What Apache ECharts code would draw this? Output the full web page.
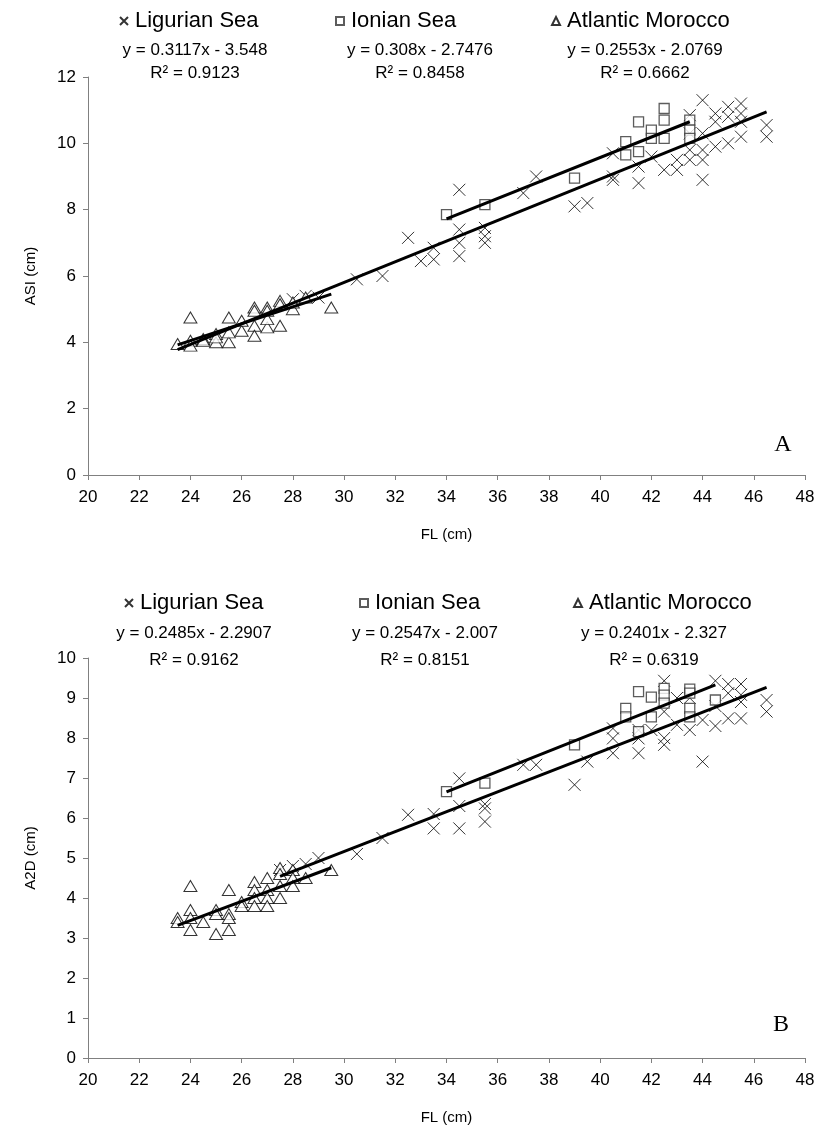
<!DOCTYPE html>
<html>
<head>
<meta charset="utf-8">
<script src="https://cdn.jsdelivr.net/npm/echarts@6/dist/echarts.min.js"></script>
<style>
html,body{margin:0;padding:0;background:#fff;}
#chart{width:818px;height:1129px;}
</style>
</head>
<body>
<div id="chart"></div>
<script>
// ---------------- DATA ----------------
const seriesNames = ['Ligurian Sea', 'Ionian Sea', 'Atlantic Morocco'];
const xTicks = [20, 22, 24, 26, 28, 30, 32, 34, 36, 38, 40, 42, 44, 46, 48];

// Panel A : ASI (cm) vs FL (cm)
const ligurianA = [
  [28.0,5.3],[28.5,5.4],[29.0,5.35],[30.5,5.9],[31.5,6.0],[32.5,7.15],[33.0,6.45],[33.5,6.85],[33.5,6.5],
  [34.5,8.6],[34.5,7.4],[34.5,7.0],[34.5,6.6],[35.5,7.45],[35.5,7.2],[35.5,7.0],[37.0,8.5],[37.5,9.0],
  [39.0,8.1],[39.5,8.2],[40.5,9.7],[40.5,9.0],[40.5,8.9],[41.5,9.3],[41.5,8.8],[42.0,9.6],[42.5,9.2],
  [43.0,9.2],[43.0,9.5],[43.5,9.5],[43.5,9.8],[43.5,10.85],[43.5,10.3],[44.0,11.3],[44.0,10.3],[44.0,9.8],
  [44.0,9.5],[44.0,8.9],[44.5,10.9],[44.5,10.65],[44.5,9.9],[45.0,11.1],[45.0,10.8],[45.0,10.0],
  [45.5,11.2],[45.5,10.9],[45.5,10.65],[45.5,10.2],[46.5,10.55],[46.5,10.2]
];
const ionianA = [
  [34.0,7.85],[35.5,8.15],[39.0,8.95],[41.0,10.05],[41.0,9.65],[41.5,9.75],[41.5,10.65],[42.0,10.4],
  [42.0,10.15],[42.5,11.05],[42.5,10.7],[42.5,10.15],[43.5,10.7],[43.5,10.4],[43.5,10.15]
];
const atlanticA = [
  [23.5,3.95],[24.0,4.75],[24.0,4.05],[24.0,3.9],[24.5,4.1],[24.5,4.05],[25.0,4.25],[25.0,4.0],[25.0,4.15],
  [25.5,4.75],[25.5,4.0],[25.5,4.3],[26.0,4.35],[26.0,4.65],[26.5,5.05],[26.5,4.95],[26.5,4.5],[26.5,4.2],
  [27.0,5.05],[27.0,4.95],[27.0,4.45],[27.0,4.7],[27.5,5.25],[27.5,5.15],[27.5,4.5],[28.0,5.0],[28.0,5.2],
  [28.5,5.35],[29.5,5.05]
];
const slopeA = [0.3117, 0.308, 0.2553];
const interceptA = [-3.548, -2.7476, -2.0769];
const r2A = ['0.9123', '0.8458', '0.6662'];
const rangeA = [[23.5, 46.5], [34.0, 43.5], [23.5, 29.5]];
const yTicksA = [0, 2, 4, 6, 8, 10, 12];

// Panel B : A2D (cm) vs FL (cm)
const ligurianB = [
  [27.5,4.7],[28.0,4.8],[28.5,4.85],[29.0,5.0],[30.5,5.1],[31.5,5.5],[32.5,6.08],[33.5,6.1],[33.5,5.74],
  [34.5,6.99],[34.5,6.3],[34.5,5.74],[35.5,6.35],[35.5,6.24],[35.5,5.91],[37.0,7.33],[37.5,7.33],
  [39.0,6.83],[39.5,7.41],[40.5,8.24],[40.5,7.99],[40.5,7.62],[41.5,8.2],[41.5,7.99],[41.5,7.62],
  [42.0,8.2],[42.5,9.43],[42.5,8.66],[42.5,8.0],[42.5,7.83],[43.0,9.0],[43.0,8.33],[43.5,9.0],[43.5,8.2],
  [44.0,8.45],[44.0,7.41],[44.5,9.43],[44.5,8.8],[44.5,8.3],[45.0,9.35],[45.0,9.12],[45.0,8.49],
  [45.5,9.35],[45.5,9.08],[45.5,8.9],[45.5,8.49],[46.5,8.95],[46.5,8.66]
];
const ionianB = [
  [34.0,6.66],[35.5,6.87],[39.0,7.83],[41.0,8.74],[41.0,8.53],[41.5,9.16],[41.5,8.16],[42.0,9.02],
  [42.0,8.53],[42.5,9.24],[42.5,9.07],[42.5,8.87],[43.5,9.22],[43.5,9.12],[43.5,8.74],[43.5,8.53],[44.5,8.95]
];
const atlanticB = [
  [23.5,3.5],[23.5,3.4],[24.0,4.3],[24.0,3.7],[24.0,3.5],[24.0,3.2],[24.5,3.4],[25.0,3.7],[25.0,3.6],
  [25.0,3.1],[25.5,4.2],[25.5,3.6],[25.5,3.5],[25.5,3.2],[26.0,3.9],[26.0,3.8],[26.5,4.4],[26.5,4.2],
  [26.5,4.0],[26.5,3.8],[27.0,4.5],[27.0,4.2],[27.0,4.0],[27.0,3.8],[27.5,4.75],[27.5,4.6],[27.5,4.3],
  [27.5,4.0],[28.0,4.7],[28.0,4.5],[28.0,4.3],[28.5,4.5],[29.5,4.7]
];
const slopeB = [0.2485, 0.2547, 0.2401];
const interceptB = [-2.2907, -2.007, -2.327];
const r2B = ['0.9162', '0.8151', '0.6319'];
const rangeB = [[27.5, 46.5], [34.0, 44.5], [23.5, 29.5]];
const yTicksB = [0, 1, 2, 3, 4, 5, 6, 7, 8, 9, 10];

// ---------------- STYLE / BUILD ----------------
const FONT = 'Liberation Sans, Arial, sans-serif';
const xPath = 'path://M0,0L10,10M10,0L0,10';
const markerStyles = [
  {symbol: xPath, symbolSize: 12, itemStyle: {color: 'rgba(0,0,0,0)', borderColor: '#000', borderWidth: 1}},
  {symbol: 'rect', symbolSize: 10, itemStyle: {color: '#fff', borderColor: '#333', borderWidth: 1.3}},
  {symbol: 'triangle', symbolSize: [13, 11], itemStyle: {color: '#fff', borderColor: '#000', borderWidth: 1}}
];

function fmtEq(s, b) {
  return 'y = ' + s + 'x - ' + Math.abs(b);
}

function trendLine(s, b, r) {
  return [[r[0], s * r[0] + b], [r[1], s * r[1] + b]];
}

const grids = [
  {left: 88, width: 717, top: 77, height: 398},
  {left: 88, width: 717, top: 658, height: 400}
];

function xAxisFor(gi) {
  return {
    gridIndex: gi, type: 'value', min: xTicks[0], max: xTicks[xTicks.length - 1], interval: 2,
    name: 'FL (cm)', nameLocation: 'middle', nameGap: 52,
    nameTextStyle: {fontFamily: FONT, fontSize: 15, color: '#000'},
    axisLine: {onZero: false, lineStyle: {color: '#808080', width: 1}},
    axisTick: {inside: false, length: 5, lineStyle: {color: '#808080'}},
    axisLabel: {fontFamily: FONT, fontSize: 17, color: '#000', margin: 14},
    splitLine: {show: false}
  };
}
function yAxisFor(gi, ticks, name) {
  return {
    gridIndex: gi, type: 'value', min: ticks[0], max: ticks[ticks.length - 1], interval: ticks[1] - ticks[0],
    name: name, nameLocation: 'middle', nameGap: 50, nameRotate: 90,
    nameTextStyle: {fontFamily: FONT, fontSize: 15, color: '#000'},
    axisLine: {show: true, onZero: false, lineStyle: {color: '#808080', width: 1}},
    axisTick: {show: true, inside: false, length: 5, lineStyle: {color: '#808080'}},
    axisLabel: {fontFamily: FONT, fontSize: 17, color: '#000', margin: 12},
    splitLine: {show: false}
  };
}

const series = [];
const panels = [
  {data: [ligurianA, ionianA, atlanticA], slope: slopeA, icpt: interceptA, range: rangeA},
  {data: [ligurianB, ionianB, atlanticB], slope: slopeB, icpt: interceptB, range: rangeB}
];
panels.forEach(function (p, gi) {
  p.data.forEach(function (d, k) {
    series.push(Object.assign({
      type: 'scatter', name: seriesNames[k], xAxisIndex: gi, yAxisIndex: gi,
      data: d, silent: true, z: 2 + k
    }, markerStyles[k]));
  });
  p.data.forEach(function (d, k) {
    series.push({
      type: 'line', name: 'trend' + gi + k, xAxisIndex: gi, yAxisIndex: gi,
      data: trendLine(p.slope[k], p.icpt[k], p.range[k]),
      showSymbol: false, symbol: 'none', silent: true, z: 10,
      lineStyle: {color: '#000', width: 3}
    });
  });
});

// legends: one per series per panel
const legendLeftA = [114, 330, 546];
const legendLeftB = [119, 354, 568];
const legendTop = [5, 587];
const legends = [];
[legendLeftA, legendLeftB].forEach(function (lefts, gi) {
  lefts.forEach(function (l, k) {
    legends.push({
      data: [seriesNames[k]], left: l, top: legendTop[gi], selectedMode: false,
      itemWidth: 8, itemHeight: 8, itemGap: 6,
      textStyle: {fontFamily: FONT, fontSize: 22, color: '#000', padding: [0, 0, 0, 2]}
    });
  });
});

// equation / R² texts (centered)
const eqCentersA = [195, 420, 645];
const eqCentersB = [194, 425, 654];
const eqMid = [50, 633];
const r2Mid = [73, 660];
const graphics = [];
[[eqCentersA, slopeA, interceptA, r2A], [eqCentersB, slopeB, interceptB, r2B]].forEach(function (g, gi) {
  g[0].forEach(function (cx, k) {
    graphics.push({type: 'text', x: cx, y: eqMid[gi], style: {
      text: fmtEq(g[1][k], g[2][k]), font: '17px ' + FONT, fill: '#000', textAlign: 'center', textVerticalAlign: 'middle'}});
    graphics.push({type: 'text', x: cx, y: r2Mid[gi], style: {
      text: 'R\u00b2 = ' + g[3][k], font: '17px ' + FONT, fill: '#000', textAlign: 'center', textVerticalAlign: 'middle'}});
  });
});
graphics.push({type: 'text', x: 783, y: 445, style: {text: 'A', font: '24px Liberation Serif, Times New Roman, serif', fill: '#000', textAlign: 'center', textVerticalAlign: 'middle'}});
graphics.push({type: 'text', x: 781, y: 1025, style: {text: 'B', font: '24px Liberation Serif, Times New Roman, serif', fill: '#000', textAlign: 'center', textVerticalAlign: 'middle'}});

const chart = echarts.init(document.getElementById('chart'), null, {renderer: 'canvas'});
chart.setOption({
  backgroundColor: '#fff',
  animation: false,
  grid: grids,
  xAxis: [xAxisFor(0), xAxisFor(1)],
  yAxis: [yAxisFor(0, yTicksA, 'ASI (cm)'), yAxisFor(1, yTicksB, 'A2D (cm)')],
  legend: legends,
  series: series,
  graphic: graphics
});
</script>
</body>
</html>
